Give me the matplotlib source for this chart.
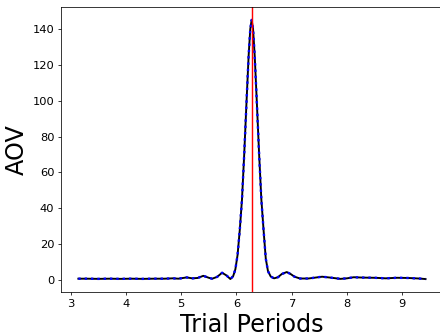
import numpy as np
import matplotlib
matplotlib.use("Agg")
import matplotlib.pyplot as plt

# trial periods and AOV statistic
periods = [3.14, 3.3, 3.5, 3.7, 3.9, 4.1, 4.3, 4.5, 4.7, 4.85, 4.95, 5.1, 5.2,
           5.3, 5.4, 5.5, 5.56, 5.65, 5.74, 5.82, 5.89, 5.94, 5.98, 6.02, 6.06,
           6.10, 6.14, 6.18, 6.22, 6.25, 6.275, 6.30, 6.33, 6.37, 6.41, 6.45,
           6.49, 6.53, 6.57, 6.62, 6.68, 6.75, 6.82, 6.91, 6.98, 7.05, 7.15,
           7.3, 7.45, 7.55, 7.7, 7.88, 8.0, 8.12, 8.3, 8.5, 8.7, 8.9, 9.1,
           9.3, 9.42]
aov = [0.8, 0.8, 0.7, 0.8, 0.7, 0.8, 0.7, 0.8, 0.8, 1.0, 0.8, 1.5, 1.0,
       1.2, 2.4, 1.3, 0.8, 1.8, 4.1, 2.6, 0.6, 2.2, 6.0, 14.0, 28.0,
       45.0, 70.0, 98.0, 125.0, 140.0, 145.0, 140.0, 125.0, 98.0, 70.0, 45.0,
       28.0, 12.0, 5.0, 2.0, 1.0, 1.6, 3.4, 4.5, 3.4, 1.9, 0.9,
       0.9, 1.5, 1.9, 1.4, 0.7, 1.0, 1.6, 1.4, 1.3, 1.0, 1.3, 1.2,
       0.9, 0.6]
true_period = 2 * np.pi

fig = plt.figure(figsize=(6.4, 4.844), dpi=68.75)
ax = fig.add_axes([0.1386, 0.1231, 0.868, 0.856])

ax.plot(periods, aov, color='k', lw=2)
ax.plot(periods, aov, 'b:', lw=2.5)
ax.axvline(true_period, color='r', lw=1.5)

ax.tick_params(labelsize=12)
ax.set_xlabel('Trial Periods', fontsize=25)
ax.set_ylabel('AOV', fontsize=25)

fig.savefig('out.png', dpi=68.75)
